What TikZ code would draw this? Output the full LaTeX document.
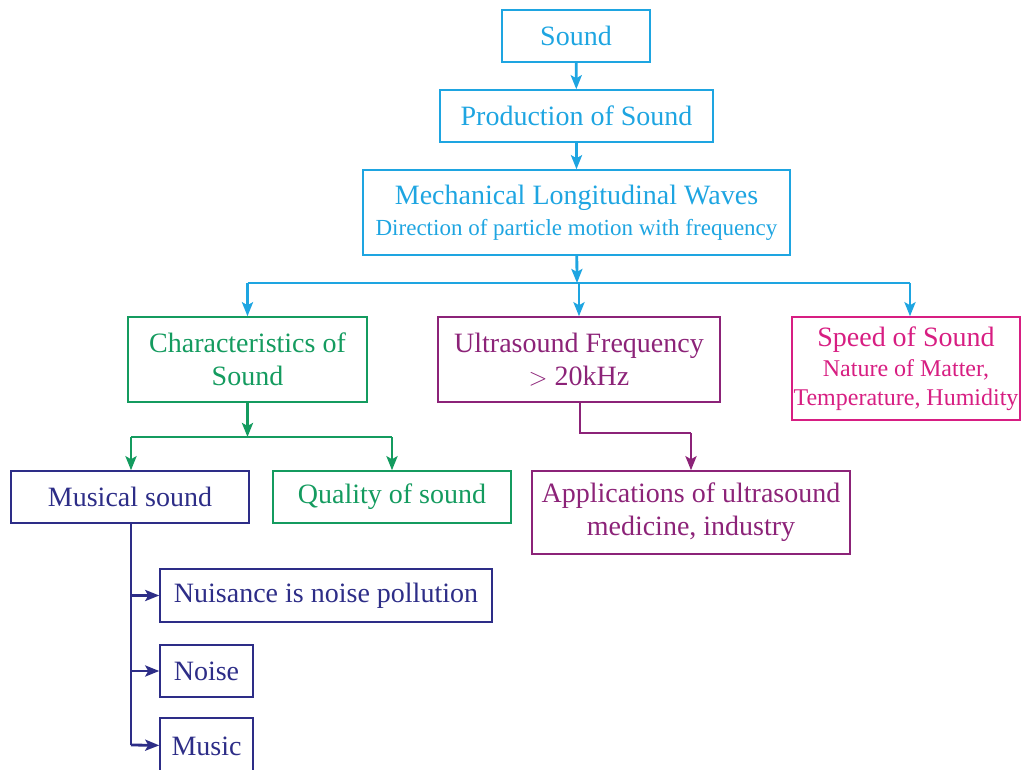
\documentclass[tikz,border=0pt]{standalone}
\usepackage{fontspec}
\setmainfont{Liberation Serif}
\usetikzlibrary{arrows.meta}

\definecolor{skyblue}{RGB}{30,165,225}
\definecolor{leafgreen}{RGB}{20,155,95}
\definecolor{plum}{RGB}{140,35,120}
\definecolor{rosepink}{RGB}{215,30,130}
\definecolor{navyblue}{RGB}{45,45,135}

\newcommand{\subline}[1]{{\fontsize{23}{28}\selectfont #1}}
\newcommand{\subwide}[1]{{\fontsize{24}{29}\selectfont #1}}

\begin{document}
\begin{tikzpicture}[x=1pt,y=-1pt,>={Stealth[length=14pt,width=11pt,inset=3pt]},
    box/.style={draw,line width=1.5pt,inner sep=0pt,align=center,font=\fontsize{28}{33}\selectfont},
    link/.style={->,line width=2.8pt}]
        \useasboundingbox (0,0) rectangle (1021,770);

        % Nodes
        \node[box,skyblue,minimum width=148,minimum height=52] (sound) at (576,36) {Sound};
        \node[box,skyblue,minimum width=273,minimum height=52] (prod) at (576.5,116) {Production of Sound};
        \node[box,skyblue,minimum width=427,minimum height=85] (mech) at (576.5,212.5) {Mechanical Longitudinal Waves\\[-2pt] \subline{Direction of particle motion with frequency}};
        \node[box,leafgreen,minimum width=239,minimum height=85] (charac) at (247.5,359.5) {Characteristics of\\ Sound};
        \node[box,plum,minimum width=282,minimum height=85] (ultra) at (579,359.5) {Ultrasound Frequency\\ $>$ 20kHz};
        \node[box,rosepink,minimum width=228,minimum height=103] (speed) at (906,368.5) {Speed of Sound\\[-3pt] \subwide{Nature of Matter,}\\[-4pt] \subwide{Temperature, Humidity}};
        \node[box,navyblue,minimum width=238,minimum height=52] (musical) at (130,497) {Musical sound};
        \node[box,leafgreen,minimum width=238,minimum height=52] (quality) at (392,497) {Quality of sound};
        \node[box,plum,minimum width=318,minimum height=83] (apps) at (691,512.5) {Applications of ultrasound\\ medicine, industry};
        \node[box,navyblue,minimum width=332,minimum height=53] (nuisance) at (326,595.5) {Nuisance is noise pollution};
        \node[box,navyblue,minimum width=93,minimum height=52] (noise) at (206.5,671) {Noise};
        \node[box,navyblue,minimum width=93,minimum height=56] (music) at (206.5,746) {Music};

        % Bus points
        \coordinate (bluebus) at (577,283);
        \coordinate (bluebusL) at (247.5,283);
        \coordinate (bluebusR) at (910,283);
        \coordinate (greenbus) at (247.5,437);
        \coordinate (greenbusL) at (131,437);
        \coordinate (greenbusR) at (392,437);
        \coordinate (plumbend) at (580,433);
        \coordinate (plumbendR) at (691,433);
        \coordinate (navydown) at (131,745);

        % Connections
        \draw[link,skyblue] (sound) -- (prod);
        \draw[link,skyblue] (prod) -- (mech);
        \draw[link,skyblue] (mech) -- (bluebus);
        \draw[skyblue,line width=2pt] (bluebusL) -- (bluebusR);
        \draw[link,skyblue] (bluebusL) -- (charac);
        \draw[link,skyblue] (bluebus -| ultra) -- (ultra);
        \draw[link,skyblue] (bluebusR) -- (bluebusR |- speed.north);

        \draw[link,leafgreen] (charac) -- (greenbus);
        \draw[leafgreen,line width=2pt] (greenbusL) -- (greenbusR);
        \draw[link,leafgreen] (greenbusL) -- (greenbusL |- musical.north);
        \draw[link,leafgreen] (greenbusR) -- (quality);

        \draw[plum,line width=2pt] (ultra.south -| plumbend) -- (plumbend) -- (plumbendR);
        \draw[link,plum] (plumbendR) -- (apps);

        \draw[navyblue,line width=2pt] (musical.south -| navydown) -- (navydown);
        \draw[link,navyblue] (navydown |- nuisance) -- (nuisance);
        \draw[link,navyblue] (navydown |- noise) -- (noise);
        \draw[link,navyblue] (navydown) -- (music);
    \end{tikzpicture}
\end{document}
